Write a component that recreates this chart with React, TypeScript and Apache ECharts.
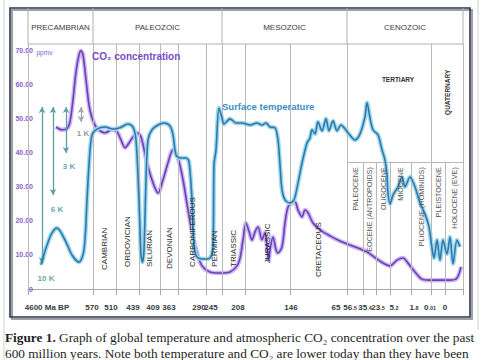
import React, { useEffect, useRef } from 'react';
import * as echarts from 'echarts';

// Position along the (non-linear) geological time axis, 0..435
const tempPos = [13, 19, 24, 29, 37, 44, 51, 56, 59, 61, 64, 69, 77, 85, 92, 100, 105, 108, 111, 113, 114.5, 116, 118, 120, 124, 130, 136, 142, 145, 148, 152, 158, 161, 164, 166, 169, 176, 182, 185, 186, 188, 191, 194, 196, 202, 208, 214, 222, 229, 234, 238, 242, 247, 250, 252, 254, 257, 262, 266, 269, 274, 279, 282, 284, 287, 290, 294, 298, 301, 305, 309, 313, 317, 320, 327, 332, 337, 339, 342, 345, 350, 354, 357, 359, 360, 362, 365, 370, 374, 377, 382, 387, 392, 397, 401, 404, 406, 409, 412, 415, 419, 422, 425, 429, 432];
const tempVal = [7.1, 12.9, 16.5, 17.9, 14.4, 10, 7.9, 11.5, 26, 36.5, 45.3, 47, 47.6, 47, 47.4, 48.5, 47.6, 43.8, 26.2, 10, 7.9, 11.5, 32, 43.8, 46.8, 48.2, 48.8, 47.9, 45.3, 39.4, 38.5, 38.5, 37.4, 26.2, 12.9, 9.4, 8.8, 9.1, 12.9, 36.5, 40.9, 53.2, 50.3, 48.5, 50, 48.8, 48.8, 48.2, 48.8, 48.2, 48.8, 47.6, 47.4, 43.8, 36.5, 29.1, 26.2, 25.3, 26.2, 29.7, 37, 42.9, 44.4, 46.8, 45.6, 49.1, 46.5, 50, 46.5, 49.4, 46.5, 48.2, 47.1, 45.9, 43.8, 45.6, 50.6, 54.7, 50.3, 46.8, 45.3, 40.9, 37.9, 33.5, 28.2, 25, 27.6, 30, 32.9, 30, 32.9, 30, 25.3, 22, 18.2, 12, 9.1, 14.4, 8.5, 14.4, 10.3, 15.3, 7.4, 14.4, 12.4];

const co2Pos = [28, 34, 39, 42, 45, 48, 51, 53, 55, 58, 61, 64, 68, 72, 77, 84, 89, 93, 97, 101, 105, 109, 113, 119, 125, 130, 135, 140, 145, 150, 155, 160, 164, 169, 174, 182, 192, 202, 209, 212, 215, 218, 221, 224, 227, 230, 234, 237, 239, 240.5, 242, 245, 248, 250, 254, 257, 260, 264, 267, 270, 274, 277, 280, 285, 292, 302, 312, 322, 332, 339, 352, 362, 369, 375, 380, 387, 394, 402, 412, 422, 428, 431, 433];
const co2Val = [47.6, 46.8, 47.1, 49.1, 55.6, 63.8, 68.8, 70, 68.8, 61.5, 54.1, 50.3, 47.6, 46.5, 45.9, 46.8, 46.2, 43.8, 41.5, 42.9, 44.7, 45.9, 44.7, 37.1, 31.2, 28.2, 32.1, 37.1, 40.9, 38.5, 32.1, 23.2, 16.8, 10.6, 6.8, 5, 4.7, 5, 6.8, 9, 14.4, 19.4, 17, 14.4, 16.8, 18.2, 14.5, 16.5, 12.4, 8.5, 11.5, 15.3, 11.5, 10.6, 12.4, 19.4, 24.1, 25.3, 25.6, 23.2, 21.2, 23.2, 22.4, 19.4, 17.4, 15.6, 14.1, 12.9, 11.8, 10.9, 8.2, 6.8, 8.5, 9.1, 7.6, 5, 2.9, 2.6, 2.6, 2.6, 2.9, 4.4, 6.5];

const yTicks = [0, 10, 20, 30, 40, 50, 60, 70];

const eraBounds = [0, 65, 194, 319, 435];
const eraNames = ['PRECAMBRIAN', 'PALEOZOIC', 'MESOZOIC', 'CENOZOIC'];

const periodBounds = [65, 88, 111, 132, 150, 178, 194, 217, 262, 319];
const periodNames = ['CAMBRIAN', 'ORDOVICIAN', 'SILURIAN', 'DEVONIAN', 'CARBONIFEROUS', 'PERMIAN', 'TRIASSIC', 'JURASSIC', 'CRETACEOUS'];
const periodLabelBase = [5.6, 6.5, 6.5, 5.9, 6.5, 6.5, 6.5, 7.6, 3.5];

const epochBounds = [319, 335, 348, 362, 383, 403, 417, 435];
const epochNames = ['PALEOCENE', 'EOCENE (ANTROPOIDS)', 'OLIGOCENE', 'MIOCENE', 'PLIOCENE (HOMINIDS)', 'PLEISTOCENE', 'HOLOCENE (EVE)'];
const epochTop = 37.3;
const epochLabelTop = 35.8;
const quaternaryStart = 403;

const xLabelPos = [19, 64, 83, 105, 125, 141, 171, 183, 210, 263, 308, 322, 337, 350, 366, 386, 402, 417];
const xLabelText = ['4600 Ma BP', '570', '510', '439', '409', '363', '290', '245', '208', '146', '65', '56.5', '35.4', '23.5', '5.2', '1.8', '0.01', '0'];

const arrowX = [14, 25, 38, 53];
const arrowFrom = [7.6, 27.6, 40, 49.1];
const arrowTo = [53.5, 53.5, 53.5, 53.5];
const arrowLabels = ['10 K', '6 K', '3 K', '1 K'];
const arrowLabelX = [18, 29, 41, 55];
const arrowLabelY = [3.2, 23.5, 35.9, 45.6];

const captionLine1 = 'Graph of global temperature and atmospheric CO\u2082 concentration over the past';
const captionLine2 = '600 million years. Note both temperature and CO\u2082 are lower today than they have been';

const SANS = '"Liberation Sans", Arial, sans-serif';
const SERIF = '"Liberation Serif", "Times New Roman", serif';

export default function App() {
  const ref = useRef<HTMLDivElement>(null);
  useEffect(() => {
    if (!ref.current) return;
    const chart = echarts.init(ref.current, null, { renderer: 'svg' });
    const allTicks = Array.from(new Set([...periodBounds, 0, ...epochBounds, 435])).sort((a, b) => a - b);
    const fullLines = [0, ...periodBounds, quaternaryStart, 435];
    const subLines = epochBounds.filter((b) => b !== 319 && b !== 435 && b !== quaternaryStart);

    const fmtX = (v: number) => {
      let idx = -1;
      xLabelPos.forEach((p, i) => { if (Math.abs(p - v) < 0.01) idx = i; });
      if (idx < 0) return '';
      const t = xLabelText[idx];
      const dot = t.indexOf('.');
      if (dot > 0) return t.slice(0, dot) + '{s|' + t.slice(dot) + '}';
      return t;
    };

    chart.setOption({
      animation: false,
      backgroundColor: '#ffffff',
      grid: { left: 28, right: 22, top: 44, bottom: 71 },
      xAxis: {
        type: 'value', min: 0, max: 435,
        splitLine: { show: false },
        axisLine: { show: true, lineStyle: { color: '#a8a8a8', width: 1 } },
        axisTick: { show: true, customValues: allTicks, length: 6, lineStyle: { color: '#a8a8a8' } },
        axisLabel: {
          customValues: xLabelPos, formatter: fmtX, margin: 14,
          color: '#3a3a3a', fontSize: 8, fontWeight: 'bold', fontFamily: SANS,
          rich: { s: { fontSize: 5.5, fontWeight: 'bold', color: '#3a3a3a', fontFamily: SANS, verticalAlign: 'bottom' } },
        },
      },
      yAxis: {
        type: 'value', min: 0, max: 72, interval: 10,
        splitLine: { show: false },
        axisLine: { show: false }, axisTick: { show: false },
        axisLabel: {
          showMaxLabel: false, margin: -5, align: 'right',
          formatter: (v: number) => (v === 0 ? '0' : v.toFixed(2)),
          color: '#8762d0', fontSize: 7, fontWeight: 'bold', fontFamily: SANS,
        },
      },
      series: [
        {
          type: 'line', name: 'CO2 glow', data: co2Pos.map((x, i) => [x, co2Val[i]]),
          showSymbol: false, smooth: 0.3, silent: true, z: 2,
          lineStyle: { color: '#cdb7f2', width: 4.5 },
          markLine: {
            silent: true, symbol: ['none', 'none'], label: { show: false },
            lineStyle: { color: '#b9b9b9', width: 1, type: 'solid' },
            data: [
              ...fullLines.map((x) => ({ xAxis: x })),
              ...subLines.map((x) => [{ coord: [x, epochTop] }, { coord: [x, 0] }]),
              [{ coord: [319, epochTop] }, { coord: [435, epochTop] }],
            ],
          },
        },
        {
          type: 'line', name: 'CO2 concentration', data: co2Pos.map((x, i) => [x, co2Val[i]]),
          showSymbol: false, smooth: 0.3, silent: true, z: 3,
          lineStyle: { color: '#6b3fb8', width: 1.6 },
        },
        {
          type: 'line', name: 'Temp glow', data: tempPos.map((x, i) => [x, tempVal[i]]),
          showSymbol: false, smooth: 0.3, silent: true, z: 4,
          lineStyle: { color: '#9fd9f0', width: 4.5 },
        },
        {
          type: 'line', name: 'Surface temperature', data: tempPos.map((x, i) => [x, tempVal[i]]),
          showSymbol: false, smooth: 0.3, silent: true, z: 5,
          lineStyle: { color: '#2f78a8', width: 1.6 },
          markLine: {
            silent: true, label: { show: false },
            data: arrowX.map((x, i) => [
              { coord: [x, arrowFrom[i]], symbol: 'arrow', symbolSize: [5, 6] },
              { coord: [x, arrowTo[i]], symbol: 'arrow', symbolSize: [5, 6],
                lineStyle: { color: i === 3 ? '#a5a5a5' : '#5c9fa8', width: 1.3, type: 'solid' } },
            ]),
            lineStyle: { color: '#5c9fa8', width: 1.3, type: 'solid' },
          },
        },
      ],
    });

    const px = (v: number) => chart.convertToPixel({ xAxisIndex: 0 }, v) as number;
    const py = (v: number) => chart.convertToPixel({ yAxisIndex: 0 }, v) as number;
    const top = py(72);
    const g: any[] = [];
    // photo edges
    g.push({ type: 'line', shape: { x1: 4, y1: 0, x2: 4, y2: 360 }, style: { stroke: '#d0d0d0', lineWidth: 1 }, z: 1 });
    g.push({ type: 'line', shape: { x1: 478, y1: 0, x2: 478, y2: 330 }, style: { stroke: '#d0d0d0', lineWidth: 1 }, z: 1 });
    // frame
    g.push({ type: 'rect', shape: { x: 12, y: 10, width: 460, height: 309 }, style: { fill: 'none', stroke: '#a0a0a0', lineWidth: 2 }, z: 1 });
    g.push({ type: 'rect', shape: { x: 10, y: 8, width: 460, height: 309 }, style: { fill: 'none', stroke: '#2a3557', lineWidth: 1.6 }, z: 2 });
    // header
    g.push({ type: 'line', shape: { x1: px(0), y1: top, x2: px(435), y2: top }, style: { stroke: '#b0b0b0', lineWidth: 1 }, z: 2 });
    eraBounds.forEach((b) => {
      g.push({ type: 'line', shape: { x1: px(b), y1: 8, x2: px(b), y2: top }, style: { stroke: '#b0b0b0', lineWidth: 1 }, z: 2 });
    });
    eraNames.forEach((n, i) => {
      g.push({ type: 'text', x: (px(eraBounds[i]) + px(eraBounds[i + 1])) / 2, y: 27, z: 10,
        style: { text: n, fill: '#3c3c3c', font: '8px ' + SANS, textAlign: 'center', textVerticalAlign: 'middle' } });
    });
    // periods
    periodNames.forEach((n, i) => {
      g.push({ type: 'text', x: (px(periodBounds[i]) + px(periodBounds[i + 1])) / 2, y: py(periodLabelBase[i]),
        rotation: Math.PI / 2, z: 10,
        style: { text: n, fill: '#2a2a2a', font: '8px ' + SANS, textAlign: 'left', textVerticalAlign: 'middle' } });
    });
    epochNames.forEach((n, i) => {
      g.push({ type: 'text', x: (px(epochBounds[i]) + px(epochBounds[i + 1])) / 2, y: py(epochLabelTop),
        rotation: Math.PI / 2, z: 10,
        style: { text: n, fill: '#555555', font: '7.2px ' + SANS, textAlign: 'right', textVerticalAlign: 'middle' } });
    });
    g.push({ type: 'text', x: px(370), y: py(61.5), z: 10,
      style: { text: 'TERTIARY', fill: '#333', font: 'bold 6.5px ' + SANS, textAlign: 'center', textVerticalAlign: 'middle' } });
    g.push({ type: 'text', x: (px(quaternaryStart) + px(435)) / 2, y: py(57.8), rotation: Math.PI / 2, z: 10,
      style: { text: 'QUATERNARY', fill: '#333', font: 'bold 6.5px ' + SANS, textAlign: 'center', textVerticalAlign: 'middle' } });
    // series names
    g.push({ type: 'text', x: px(64), y: py(68.2), z: 10,
      style: { text: 'CO\u2082 concentration', fill: '#7a4cc8', font: 'bold 10px ' + SANS, textAlign: 'left', textVerticalAlign: 'middle' } });
    g.push({ type: 'text', x: px(194), y: py(53.5), z: 10,
      style: { text: 'Surface temperature', fill: '#3b8ec4', font: 'bold 9.5px ' + SANS, textAlign: 'left', textVerticalAlign: 'middle' } });
    g.push({ type: 'text', x: px(8.5), y: py(69.6), z: 10,
      style: { text: 'ppmv', fill: '#8762d0', font: '6.5px ' + SANS, textAlign: 'left', textVerticalAlign: 'middle' } });
    arrowLabels.forEach((t, i) => {
      g.push({ type: 'text', x: px(arrowLabelX[i]), y: py(arrowLabelY[i]), z: 10,
        style: { text: t, fill: i === 3 ? '#9a9a9a' : '#6ea5ac', font: 'bold 8px ' + SANS, textAlign: 'center', textVerticalAlign: 'middle' } });
    });
    // caption
    g.push({ type: 'text', x: 5, y: 337, z: 10,
      style: { text: '{b|Figure 1.} ' + captionLine1, fill: '#1e1e1e', font: '13.3px ' + SERIF, textVerticalAlign: 'middle',
        rich: { b: { fontWeight: 'bold', fontSize: 13.3, fontFamily: SERIF, fill: '#1e1e1e' } } } });
    g.push({ type: 'text', x: 5, y: 353, z: 10,
      style: { text: captionLine2, fill: '#1e1e1e', font: '13.3px ' + SERIF, textVerticalAlign: 'middle' } });

    chart.setOption({ graphic: g });
    return () => chart.dispose();
  }, []);
  return <div ref={ref} style={{ position: 'absolute', left: 0, top: 0, width: 485, height: 360 }} />;
}
